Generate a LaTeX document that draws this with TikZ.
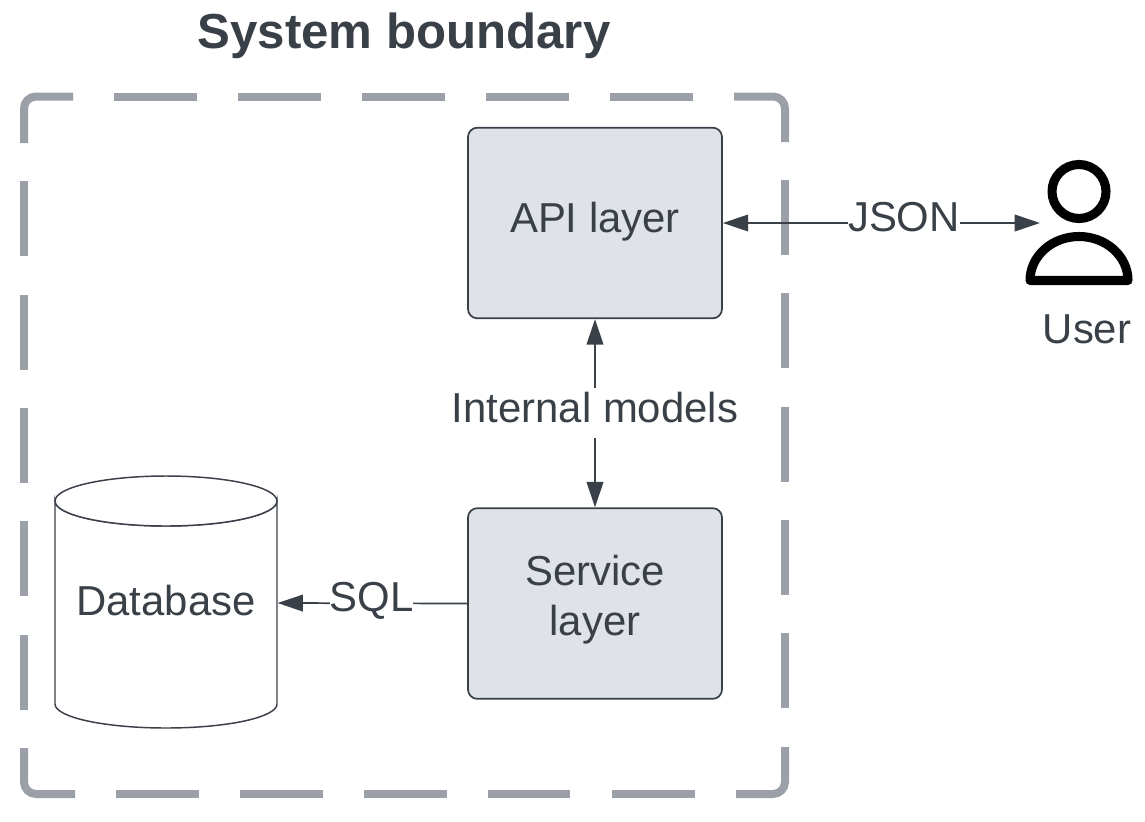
\documentclass[tikz,border=0pt]{standalone}
\usepackage{fontspec}
\setmainfont{Liberation Sans}
\usetikzlibrary{arrows.meta}
\definecolor{ink}{HTML}{3A4048}
\definecolor{boxfill}{HTML}{DFE2E7}
\definecolor{edge}{HTML}{9A9FA8}
\newcommand{\bodyfont}{\fontsize{31.4}{37.5}\selectfont}
\tikzset{
  x=0.75pt,y=-0.75pt,
  boxnode/.style={draw=ink,fill=boxfill,line width=1.3pt,rounded corners=7pt,minimum width=190.5pt,minimum height=143pt,inner sep=0pt,text=ink,font=\bodyfont,align=center},
  dashpiece/.style={draw=edge,line width=6pt,line cap=butt,rounded corners=9pt},
  conn/.style={draw=ink,line width=1.3pt,{Triangle[length=19pt,width=12.5pt]}-{Triangle[length=19pt,width=12.5pt]}},
  connone/.style={draw=ink,line width=1.3pt,-{Triangle[length=19pt,width=12.5pt]}},
  lbl/.style={fill=white,inner sep=0pt,text=ink,font=\bodyfont},
  dbshape/.style={draw=ink,line width=1.1pt,fill=white},
  iconline/.style={draw=black,line width=6.8pt,line join=round},
}
\begin{document}
\begin{tikzpicture}
\useasboundingbox (0,0) rectangle (1145,821);
% system boundary
\draw[dashpiece] (24,143) -- (24,96.5) -- (73,96.5);
\foreach \a/\b in {114/197,238/321,362/445,486/569,610/693}
  \draw[dashpiece] (\a,96.5) -- (\b,96.5);
\draw[dashpiece] (734,96.5) -- (785,96.5) -- (785,142);
\foreach \a/\b in {180/255,293/368,407/482,520/595,633/708}
  \draw[dashpiece] (785,\a) -- (785,\b);
\draw[dashpiece] (785,747) -- (785,794) -- (736,794);
\foreach \a/\b in {116/199,240/323,364/447,488/570,612/695}
  \draw[dashpiece] (\a,794) -- (\b,794);
\draw[dashpiece] (75,794) -- (24,794) -- (24,748);
\foreach \a/\b in {181/256,295/370,408/483,521/596,635/710}
  \draw[dashpiece] (24,\a) -- (24,\b);
\node[text=ink,font=\fontsize{36.9}{44}\selectfont\bfseries,anchor=base,inner sep=0pt] (title) at (404,48) {System boundary};
% database
\draw[dbshape] (55,501) -- (55,704) arc[start angle=180,end angle=0,x radius=111,y radius=24]
  -- (277,501) arc[start angle=0,end angle=180,x radius=111,y radius=25] -- cycle;
\draw[dbshape] (166,501) ellipse[x radius=111,y radius=25];
\node[minimum width=167pt,minimum height=189pt,inner sep=0pt,text=ink,font=\bodyfont] (db) at (166,603) {\raisebox{-9pt}[0pt][0pt]{Database}};
% boxes
\node[boxnode] (api) at (595,223) {\raisebox{-6.75pt}[0pt][0pt]{API layer}};
\node[boxnode] (service) at (595,603.5) {\raisebox{-4.2pt}[0pt][0pt]{\begin{tabular}{@{}c@{}}Service\\layer\end{tabular}}};
% user
\coordinate (userport) at (1040,223);
\draw[iconline] (1079,191.5) circle[radius=27];
\draw[iconline] (1030,280.5) arc[start angle=180,end angle=360,x radius=49,y radius=44] -- cycle;
\node[text=ink,font=\bodyfont,anchor=base,inner sep=0pt] (user) at (1087,343) {User};
% connectors
\draw[conn] (api.east) -- node[lbl,pos=0.571,yshift=4.5pt,minimum width=84pt] (json) {JSON} (userport);
\draw[conn] (api.south) -- node[lbl,minimum width=215pt,minimum height=37.5pt] (models) {\raisebox{-7pt}[0pt][0pt]{Internal models}} (service.north);
\draw[connone] (service.west) -- node[lbl,pos=0.505,yshift=1.5pt] (sql) {SQL} (db.east);
\end{tikzpicture}
\end{document}
